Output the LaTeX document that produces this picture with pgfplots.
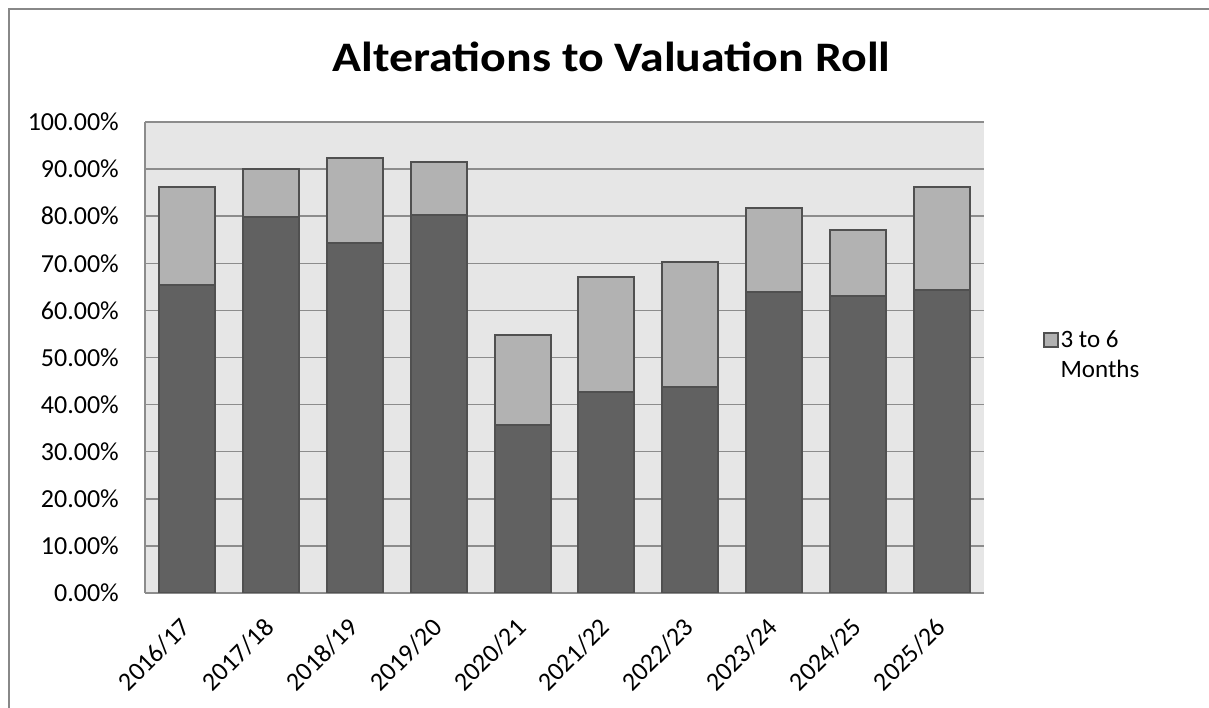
\documentclass[border=0pt]{standalone}
\usepackage{pgfplots}
\pgfplotsset{compat=1.18}
\usepackage{fontspec}
\setmainfont{Carlito}

\definecolor{barDark}{HTML}{616161}
\definecolor{barLight}{HTML}{B2B2B2}
\definecolor{barEdge}{HTML}{505050}
\definecolor{plotBg}{HTML}{E6E6E6}
\definecolor{gridCol}{HTML}{8C8C8C}
\definecolor{frameCol}{HTML}{888888}

% share of alterations processed, by year (percent)
\pgfplotstableread{
idx year    upto3  threeToSix
0   2016/17 65.4   20.7
1   2017/18 79.8   10.2
2   2018/19 74.3   18.0
3   2019/20 80.3   11.1
4   2020/21 35.6   19.2
5   2021/22 42.7   24.4
6   2022/23 43.7   26.6
7   2023/24 63.8   18.0
8   2024/25 63.1   14.0
9   2025/26 64.3   22.0
}\altdata

\begin{document}
\begin{tikzpicture}
\path[use as bounding box] (0pt,0pt) rectangle (1209pt,708pt);
% chart frame
\draw[frameCol, line width=2pt] (8.5pt,0pt) -- (8.5pt,699pt) -- (1209pt,699pt);

\begin{axis}[
  at={(145pt,115pt)}, anchor=south west,
  scale only axis, width=839pt, height=471pt,
  ybar stacked, bar width=56pt, bar shift=0pt,
  xmin=-0.5, xmax=9.5, ymin=0, ymax=100,
  xtick={0,...,9},
  xticklabels={2016/17,2017/18,2018/19,2019/20,2020/21,2021/22,2022/23,2023/24,2024/25,2025/26},
  ytick={0,10,...,100},
  /pgf/number format/assume math mode=true,
  yticklabel={\pgfmathprintnumber[fixed,fixed zerofill,precision=2]{\tick}\%},
  tick style={draw=none},
  ticklabel style={font=\fontsize{26}{30}\selectfont, inner sep=0pt},
  yticklabel style={anchor=east, xshift=-26pt},
  xticklabel style={yshift=-23pt, xshift=-8pt, rotate=45, anchor=north east},
  axis background/.style={fill=plotBg},
  axis x line*=bottom, axis y line*=left,
  axis line style={gridCol, line width=1.5pt},
  ymajorgrids, major grid style={gridCol, line width=1.5pt},
  legend style={draw=none, fill=none, at={(1.066,0.505)}, anchor=west,
    font=\fontsize{25}{30}\selectfont, cells={align=left, anchor=west}},
  legend image code/.code={%
    \draw[#1] (0pt,8pt) rectangle (14pt,22pt);},
]
\addplot[fill=barDark, draw=barEdge, line width=2pt, forget plot]
  table[x=idx, y=upto3] {\altdata};
\addplot[fill=barLight, draw=barEdge, line width=2pt]
  table[x=idx, y=threeToSix] {\altdata};
\addlegendentry{3 to 6\\Months}
\end{axis}

\node[anchor=base, font=\fontsize{42}{50}\selectfont\bfseries] at (611.5pt,636.3pt)
  {\scalebox{1.14}[1]{Alterations to Valuation Roll}};
\end{tikzpicture}
\end{document}
